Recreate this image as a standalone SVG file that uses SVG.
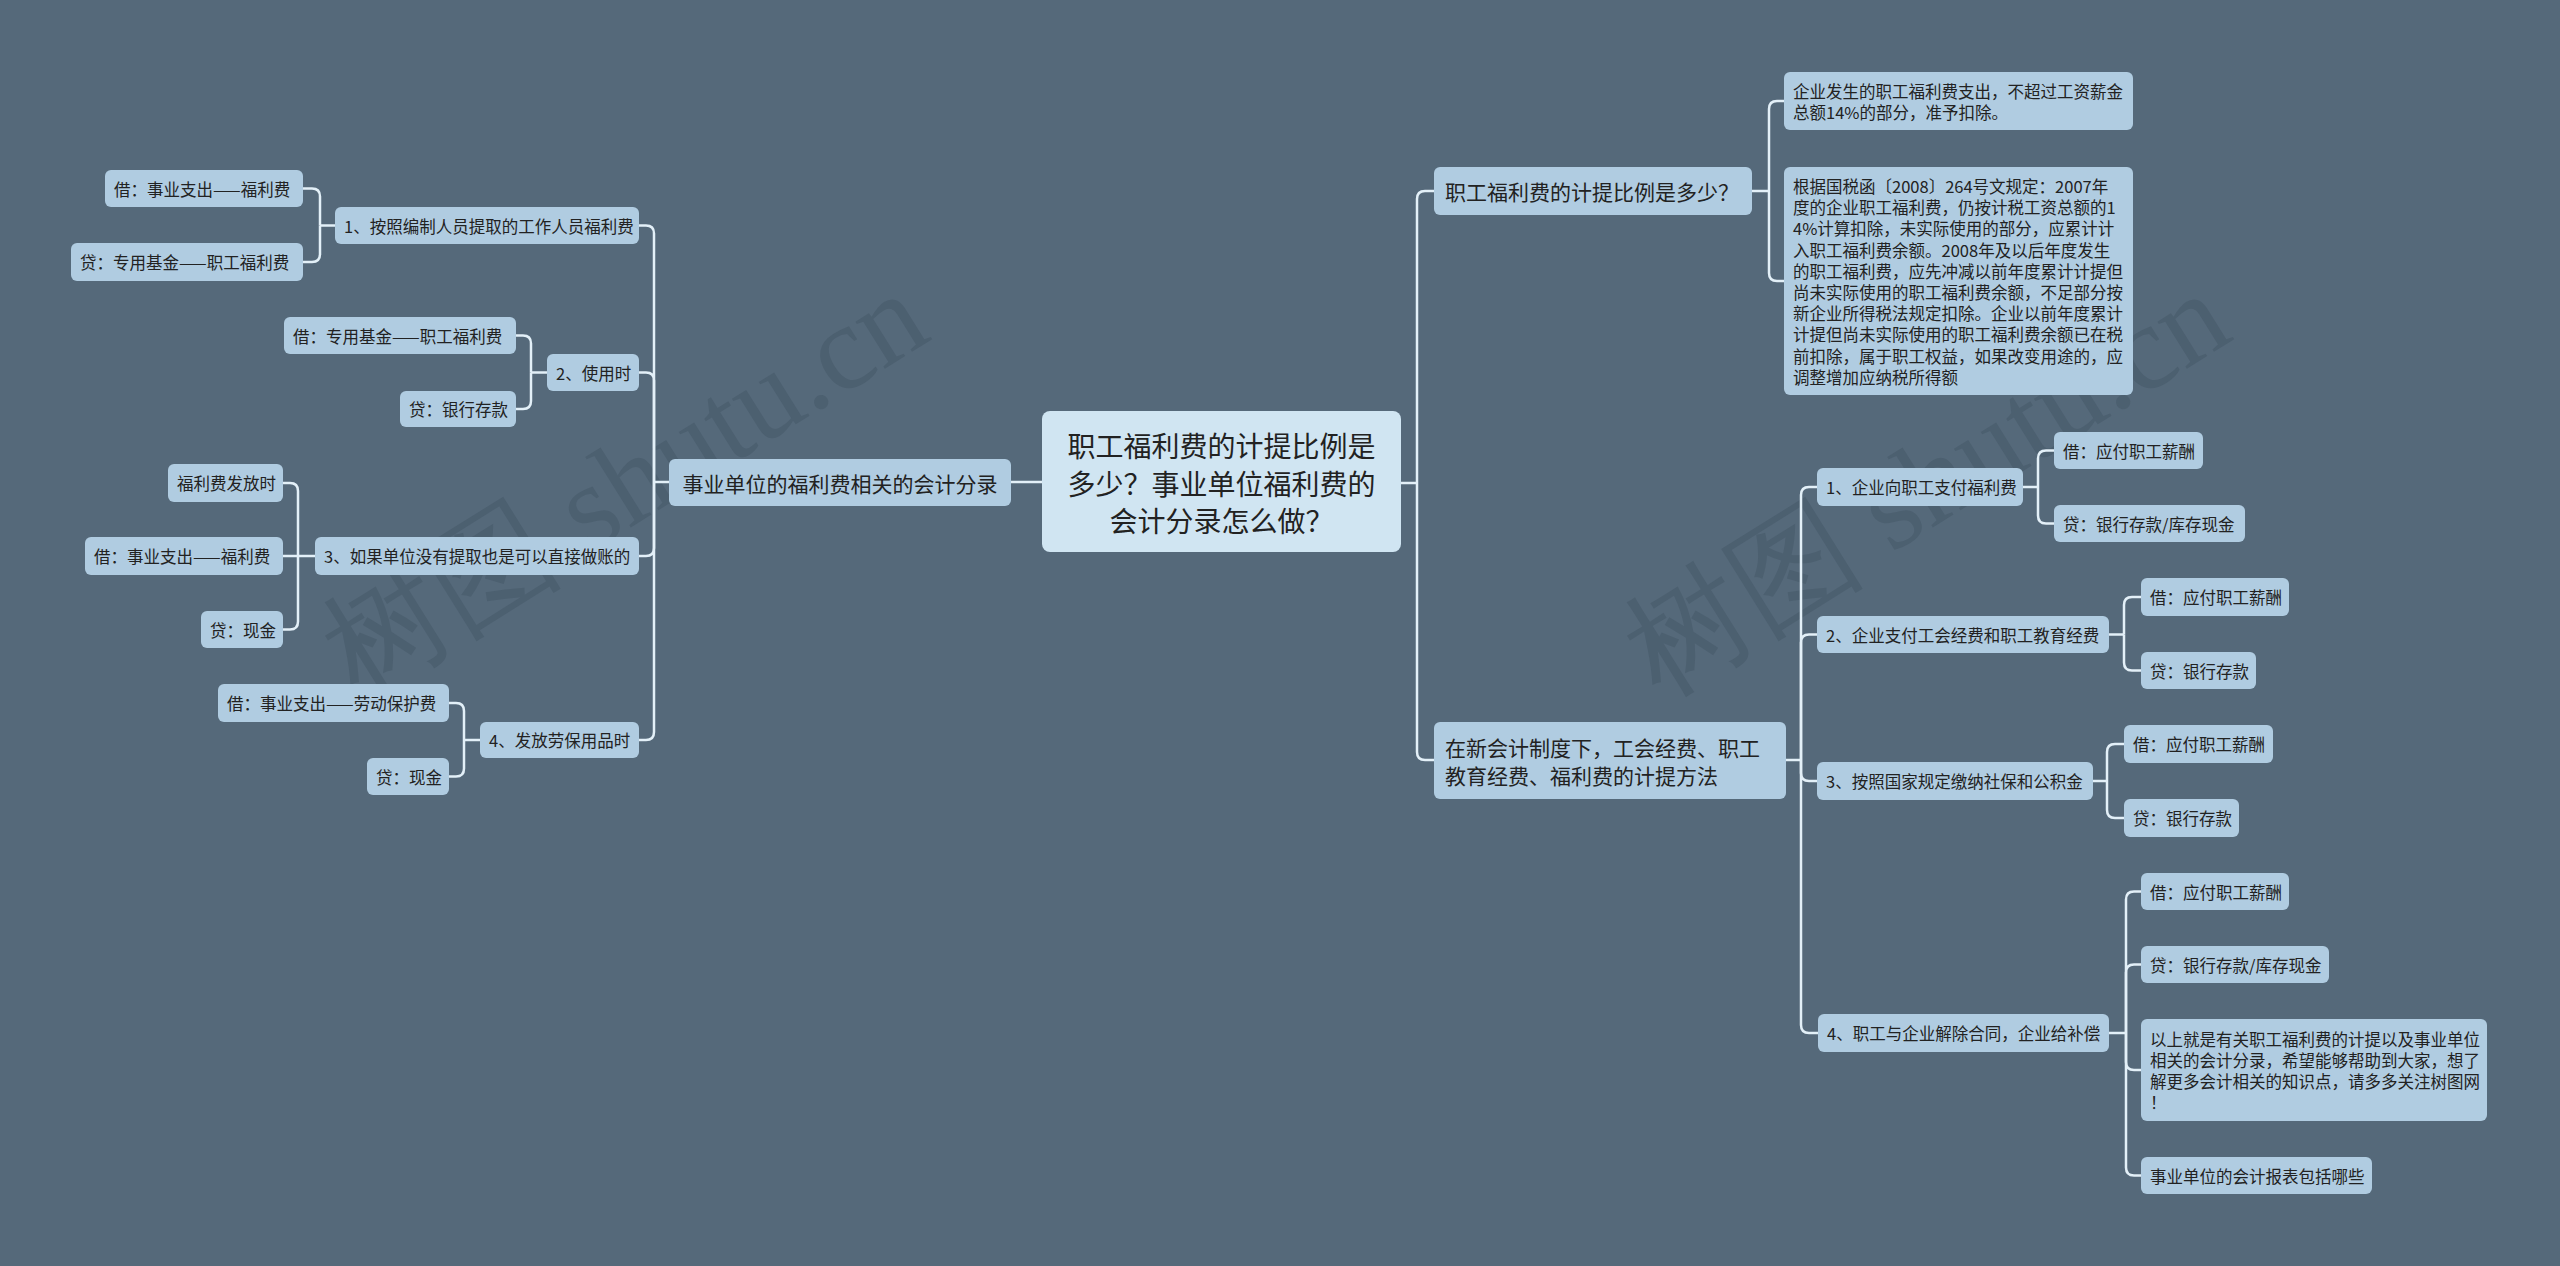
<svg xmlns="http://www.w3.org/2000/svg" width="2560" height="1266" viewBox="0 0 2560 1266">
<style>
text{font-family:"Noto Sans CJK SC","Noto Sans",sans-serif;fill:#222;dominant-baseline:central}
.n{fill:#b0cce1}
.root{fill:#d0e5f2}
.s{font-size:16.5px}
.m{font-size:21px}
.big{font-size:28px;text-anchor:middle}
.c path{fill:none;stroke:#e3f0f8;stroke-width:2.5}
.wm{font-family:"Liberation Serif",serif;font-size:121px;fill:#2c3e4e;fill-opacity:0.22;dominant-baseline:auto}
</style>
<rect width="2560" height="1266" fill="#55697a"/>
<text class="wm" transform="translate(358,698) rotate(-32)">树图 shutu.cn</text>
<text class="wm" transform="translate(1660,698) rotate(-32)">树图 shutu.cn</text>
<g class="c" id="connectors">
<path d="M1401,483 H1417"/>
<path d="M1417,483 V199 Q1417,191 1425,191 H1434"/>
<path d="M1417,483 V752 Q1417,760 1425,760 H1434"/>
<path d="M1752,191 H1769"/>
<path d="M1769,191 V109 Q1769,101 1777,101 H1784"/>
<path d="M1769,191 V273 Q1769,281 1777,281 H1784"/>
<path d="M1786,760 H1801"/>
<path d="M1801,760 V495 Q1801,487 1809,487 H1817"/>
<path d="M1801,760 V642.5 Q1801,634.5 1809,634.5 H1817"/>
<path d="M1801,760 V773 Q1801,781 1809,781 H1817"/>
<path d="M1801,760 V1025 Q1801,1033 1809,1033 H1818"/>
<path d="M2023,487 H2038"/>
<path d="M2038,487 V458.5 Q2038,450.5 2046,450.5 H2054"/>
<path d="M2038,487 V515.5 Q2038,523.5 2046,523.5 H2054"/>
<path d="M2109,634.5 H2124"/>
<path d="M2124,634.5 V605 Q2124,597 2132,597 H2141"/>
<path d="M2124,634.5 V662.5 Q2124,670.5 2132,670.5 H2141"/>
<path d="M2093,781 H2107"/>
<path d="M2107,781 V752 Q2107,744 2115,744 H2124"/>
<path d="M2107,781 V810 Q2107,818 2115,818 H2124"/>
<path d="M2109,1033 H2126"/>
<path d="M2126,1033 V899.5 Q2126,891.5 2134,891.5 H2141"/>
<path d="M2126,1033 V972.5 Q2126,964.5 2134,964.5 H2141"/>
<path d="M2126,1033 V1062 Q2126,1070 2134,1070 H2141"/>
<path d="M2126,1033 V1167.5 Q2126,1175.5 2134,1175.5 H2141"/>
<path d="M1042,482 H1011"/>
<path d="M669,482 H654"/>
<path d="M654,482 V233.5 Q654,225.5 646,225.5 H639"/>
<path d="M654,482 V380.5 Q654,372.5 646,372.5 H639"/>
<path d="M654,482 V548 Q654,556 646,556 H639"/>
<path d="M654,482 V732 Q654,740 646,740 H639"/>
<path d="M335,225.5 H320"/>
<path d="M320,225.5 V196.5 Q320,188.5 312,188.5 H303"/>
<path d="M320,225.5 V254 Q320,262 312,262 H303"/>
<path d="M547,372.5 H531"/>
<path d="M531,372.5 V343.5 Q531,335.5 523,335.5 H516"/>
<path d="M531,372.5 V401 Q531,409 523,409 H516"/>
<path d="M315,556 H298"/>
<path d="M298,556 V491 Q298,483 290,483 H283"/>
<path d="M298,556 H283"/>
<path d="M298,556 V621.5 Q298,629.5 290,629.5 H283"/>
<path d="M480,740 H464"/>
<path d="M464,740 V711 Q464,703 456,703 H449"/>
<path d="M464,740 V768.5 Q464,776.5 456,776.5 H449"/>
</g>
<g id="root"><rect class="root" x="1042" y="411" width="359" height="141" rx="8"/>
<text class="big" x="1221.5" y="445">职工福利费的计提比例是</text>
<text class="big" x="1221.5" y="483">多少？事业单位福利费的</text>
<text class="big" x="1221.5" y="520">会计分录怎么做？</text></g>
<g id="lb"><rect class="n" x="669" y="459" width="342" height="47" rx="6"/><text class="m" x="840" y="482.5" text-anchor="middle">事业单位的福利费相关的会计分录</text></g>
<g id="l1"><rect class="n" x="335" y="207" width="304" height="37" rx="6"/><text class="s" x="344" y="225.5">1、按照编制人员提取的工作人员福利费</text></g>
<g id="l1a"><rect class="n" x="105" y="170" width="198" height="37" rx="6"/><text class="s" x="114" y="188.5">借：事业支出——福利费</text></g>
<g id="l1b"><rect class="n" x="71" y="243" width="232" height="38" rx="6"/><text class="s" x="80" y="262">贷：专用基金——职工福利费</text></g>
<g id="l2"><rect class="n" x="547" y="354" width="92" height="37" rx="6"/><text class="s" x="556" y="372.5">2、使用时</text></g>
<g id="l2a"><rect class="n" x="284" y="317" width="232" height="37" rx="6"/><text class="s" x="293" y="335.5">借：专用基金——职工福利费</text></g>
<g id="l2b"><rect class="n" x="400" y="391" width="116" height="36" rx="6"/><text class="s" x="409" y="409">贷：银行存款</text></g>
<g id="l3"><rect class="n" x="315" y="537" width="324" height="38" rx="6"/><text class="s" x="324" y="556">3、如果单位没有提取也是可以直接做账的</text></g>
<g id="l3a"><rect class="n" x="168" y="464" width="115" height="38" rx="6"/><text class="s" x="177" y="483">福利费发放时</text></g>
<g id="l3b"><rect class="n" x="85" y="537" width="198" height="38" rx="6"/><text class="s" x="94" y="556">借：事业支出——福利费</text></g>
<g id="l3c"><rect class="n" x="201" y="611" width="82" height="37" rx="6"/><text class="s" x="210" y="629.5">贷：现金</text></g>
<g id="l4"><rect class="n" x="480" y="722" width="159" height="36" rx="6"/><text class="s" x="489" y="740">4、发放劳保用品时</text></g>
<g id="l4a"><rect class="n" x="218" y="684" width="231" height="38" rx="6"/><text class="s" x="227" y="703">借：事业支出——劳动保护费</text></g>
<g id="l4b"><rect class="n" x="367" y="758" width="82" height="37" rx="6"/><text class="s" x="376" y="776.5">贷：现金</text></g>
<g id="r1"><rect class="n" x="1434" y="167" width="318" height="48" rx="6"/><text class="m" x="1445" y="191">职工福利费的计提比例是多少？</text></g>
<g id="r1a"><rect class="n" x="1784" y="72" width="349" height="58" rx="6"/>
<text class="s" x="1793" y="91">企业发生的职工福利费支出，不超过工资薪金</text>
<text class="s" x="1793" y="112">总额14%的部分，准予扣除。</text></g>
<g id="r1b"><rect class="n" x="1784" y="167" width="349" height="228" rx="6"/>
<text class="s" x="1793" y="186">根据国税函〔2008〕264号文规定：2007年</text>
<text class="s" x="1793" y="207.2">度的企业职工福利费，仍按计税工资总额的1</text>
<text class="s" x="1793" y="228.4">4%计算扣除，未实际使用的部分，应累计计</text>
<text class="s" x="1793" y="249.6">入职工福利费余额。2008年及以后年度发生</text>
<text class="s" x="1793" y="270.8">的职工福利费，应先冲减以前年度累计计提但</text>
<text class="s" x="1793" y="292">尚未实际使用的职工福利费余额，不足部分按</text>
<text class="s" x="1793" y="313.2">新企业所得税法规定扣除。企业以前年度累计</text>
<text class="s" x="1793" y="334.4">计提但尚未实际使用的职工福利费余额已在税</text>
<text class="s" x="1793" y="355.6">前扣除，属于职工权益，如果改变用途的，应</text>
<text class="s" x="1793" y="376.8">调整增加应纳税所得额</text></g>
<g id="r2"><rect class="n" x="1434" y="722" width="352" height="77" rx="6"/>
<text class="m" x="1445" y="747">在新会计制度下，工会经费、职工</text>
<text class="m" x="1445" y="775">教育经费、福利费的计提方法</text></g>
<g id="r21"><rect class="n" x="1817" y="468" width="206" height="38" rx="6"/><text class="s" x="1826" y="487">1、企业向职工支付福利费</text></g>
<g id="r21a"><rect class="n" x="2054" y="432" width="149" height="37" rx="6"/><text class="s" x="2063" y="450.5">借：应付职工薪酬</text></g>
<g id="r21b"><rect class="n" x="2054" y="505" width="191" height="37" rx="6"/><text class="s" x="2063" y="523.5">贷：银行存款/库存现金</text></g>
<g id="r22"><rect class="n" x="1817" y="616" width="292" height="37" rx="6"/><text class="s" x="1826" y="634.5">2、企业支付工会经费和职工教育经费</text></g>
<g id="r22a"><rect class="n" x="2141" y="578" width="148" height="38" rx="6"/><text class="s" x="2150" y="597">借：应付职工薪酬</text></g>
<g id="r22b"><rect class="n" x="2141" y="652" width="115" height="37" rx="6"/><text class="s" x="2150" y="670.5">贷：银行存款</text></g>
<g id="r23"><rect class="n" x="1817" y="762" width="276" height="38" rx="6"/><text class="s" x="1826" y="781">3、按照国家规定缴纳社保和公积金</text></g>
<g id="r23a"><rect class="n" x="2124" y="725" width="149" height="38" rx="6"/><text class="s" x="2133" y="744">借：应付职工薪酬</text></g>
<g id="r23b"><rect class="n" x="2124" y="799" width="115" height="38" rx="6"/><text class="s" x="2133" y="818">贷：银行存款</text></g>
<g id="r24"><rect class="n" x="1818" y="1014" width="291" height="38" rx="6"/><text class="s" x="1827" y="1033">4、职工与企业解除合同，企业给补偿</text></g>
<g id="r24a"><rect class="n" x="2141" y="873" width="148" height="37" rx="6"/><text class="s" x="2150" y="891.5">借：应付职工薪酬</text></g>
<g id="r24b"><rect class="n" x="2141" y="946" width="188" height="37" rx="6"/><text class="s" x="2150" y="964.5">贷：银行存款/库存现金</text></g>
<g id="r24c"><rect class="n" x="2141" y="1019" width="346" height="102" rx="6"/>
<text class="s" x="2150" y="1038.5">以上就是有关职工福利费的计提以及事业单位</text>
<text class="s" x="2150" y="1059.5">相关的会计分录，希望能够帮助到大家，想了</text>
<text class="s" x="2150" y="1080.5">解更多会计相关的知识点，请多多关注树图网</text>
<text class="s" x="2150" y="1101.5">！</text></g>
<g id="r24d"><rect class="n" x="2141" y="1157" width="231" height="37" rx="6"/><text class="s" x="2150" y="1175.5">事业单位的会计报表包括哪些</text></g>
</svg>
